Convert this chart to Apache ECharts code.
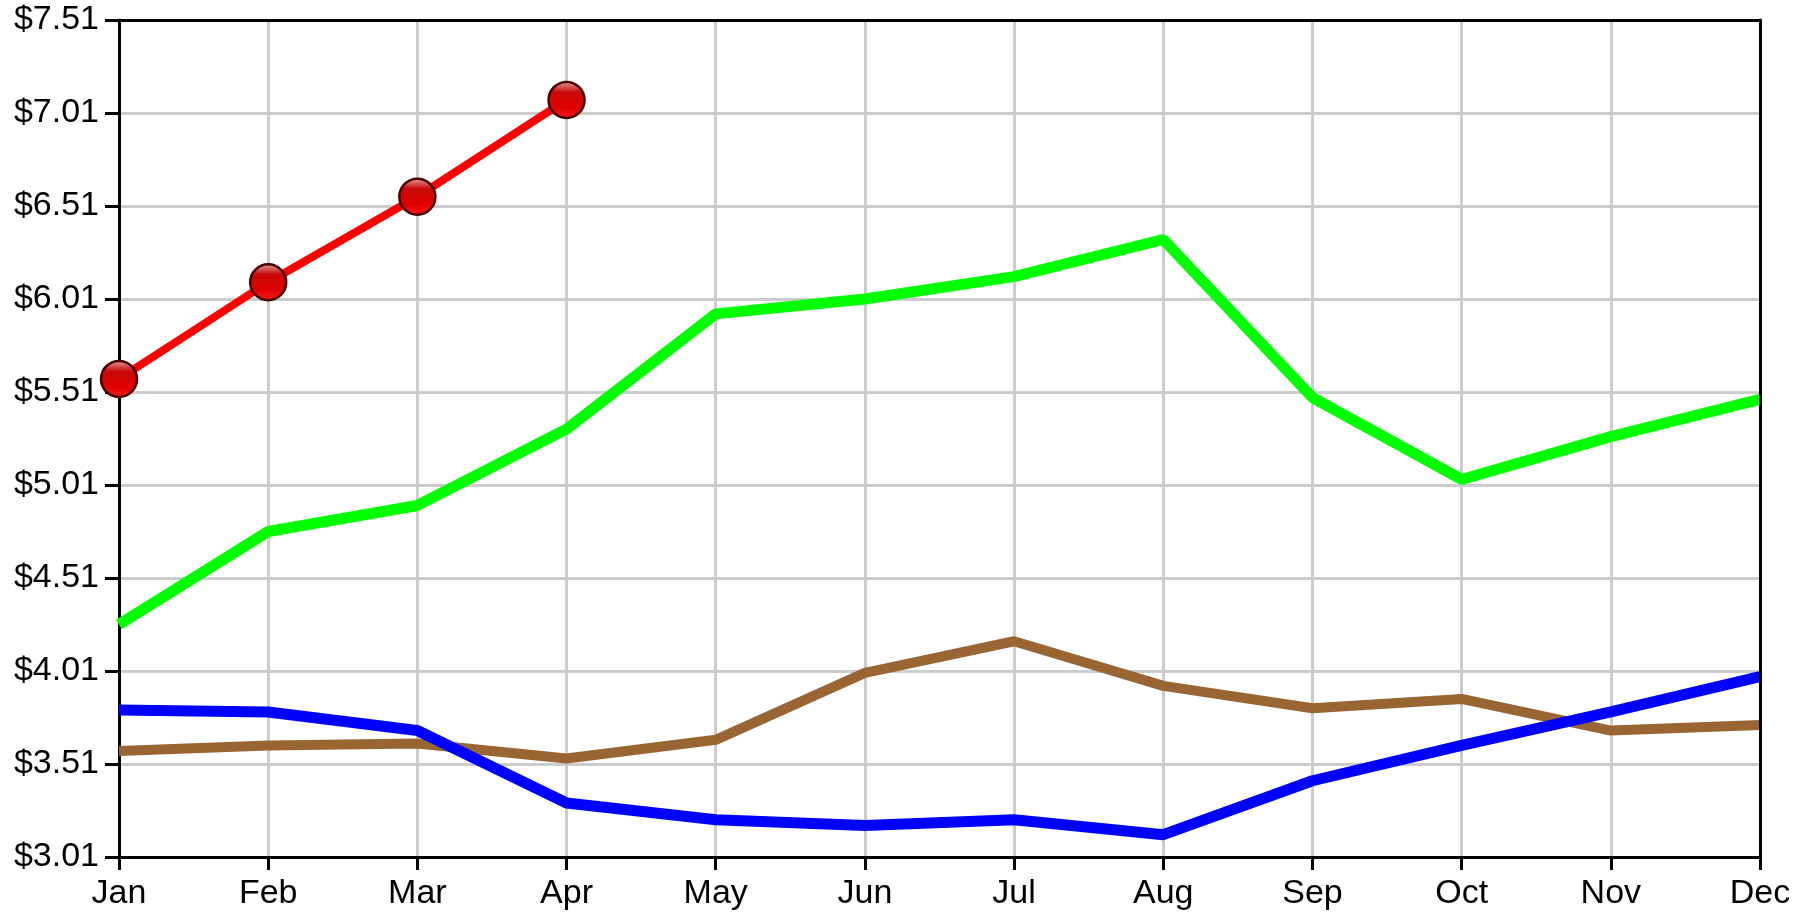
<!DOCTYPE html>
<html>
<head>
<meta charset="utf-8">
<script src="https://cdn.jsdelivr.net/npm/echarts@6/dist/echarts.min.js"></script>
<style>
html,body{margin:0;padding:0;background:#fff;}
#chart{width:1808px;height:913px;}
</style>
</head>
<body>
<div id="chart"></div>
<script>
var months = ['Jan','Feb','Mar','Apr','May','Jun','Jul','Aug','Sep','Oct','Nov','Dec'];
var redValues = [5.58, 6.10, 6.56, 7.08];
var greenValues = [4.26, 4.76, 4.90, 5.31, 5.93, 6.01, 6.13, 6.33, 5.48, 5.04, 5.27, 5.47];
var brownValues = [3.58, 3.61, 3.62, 3.54, 3.64, 4.00, 4.17, 3.93, 3.81, 3.86, 3.69, 3.72];
var blueValues = [3.80, 3.79, 3.69, 3.30, 3.21, 3.18, 3.21, 3.13, 3.42, 3.61, 3.79, 3.98];
var yMin = 3.01, yMax = 7.51, yStep = 0.5;

var chart = echarts.init(document.getElementById('chart'));
var font = '"Liberation Sans", Arial, sans-serif';
chart.setOption({
  animation: false,
  backgroundColor: '#fff',
  grid: {left: 119, right: 48, top: 20, bottom: 56},
  xAxis: [{
    type: 'category',
    data: months,
    boundaryGap: false,
    axisLine: {lineStyle: {color: '#000', width: 3}},
    axisTick: {show: true, length: 13, lineStyle: {color: '#000', width: 3}},
    axisLabel: {color: '#000', fontSize: 34, fontFamily: font, margin: 20, interval: 0},
    splitLine: {show: true, lineStyle: {color: '#cccccc', width: 3}},
    z: 1
  }, {
    type: 'category',
    data: months,
    position: 'top',
    boundaryGap: false,
    axisLine: {show: true, lineStyle: {color: '#000', width: 3}},
    axisTick: {show: false},
    axisLabel: {show: false},
    splitLine: {show: false},
    z: 10
  }],
  yAxis: [{
    type: 'value',
    min: yMin, max: yMax, interval: yStep,
    axisLine: {show: true, lineStyle: {color: '#000', width: 3}},
    axisTick: {show: true, length: 14, lineStyle: {color: '#000', width: 3}},
    axisLabel: {color: '#000', fontSize: 34, fontFamily: font, margin: 20,
      formatter: function (v) { return '$' + v.toFixed(2); }},
    splitLine: {show: true, lineStyle: {color: '#cccccc', width: 3}},
    z: 1
  }, {
    type: 'value',
    position: 'right',
    min: yMin, max: yMax, interval: yStep,
    axisLine: {show: true, lineStyle: {color: '#000', width: 3}},
    axisTick: {show: false},
    axisLabel: {show: false},
    splitLine: {show: false},
    z: 10
  }],
  series: [
    {type: 'line', data: brownValues, symbol: 'none', lineStyle: {color: '#996633', width: 10}, z: 2},
    {type: 'line', data: blueValues, symbol: 'none', lineStyle: {color: '#0000ff', width: 11}, z: 3},
    {type: 'line', data: greenValues, symbol: 'none', lineStyle: {color: '#00ff00', width: 11}, z: 4},
    {type: 'line', data: redValues, symbol: 'circle', symbolSize: 36, showSymbol: true,
      lineStyle: {color: '#ff0000', width: 8},
      itemStyle: {
        color: new echarts.graphic.LinearGradient(0, 0, 0, 1, [
          {offset: 0, color: '#e8a8a8'},
          {offset: 0.3, color: '#c80808'},
          {offset: 0.7, color: '#e00000'},
          {offset: 1, color: '#ff1a1a'}
        ]),
        borderColor: '#4a0000', borderWidth: 2.5
      }, z: 5}
  ]
});
</script>
</body>
</html>
